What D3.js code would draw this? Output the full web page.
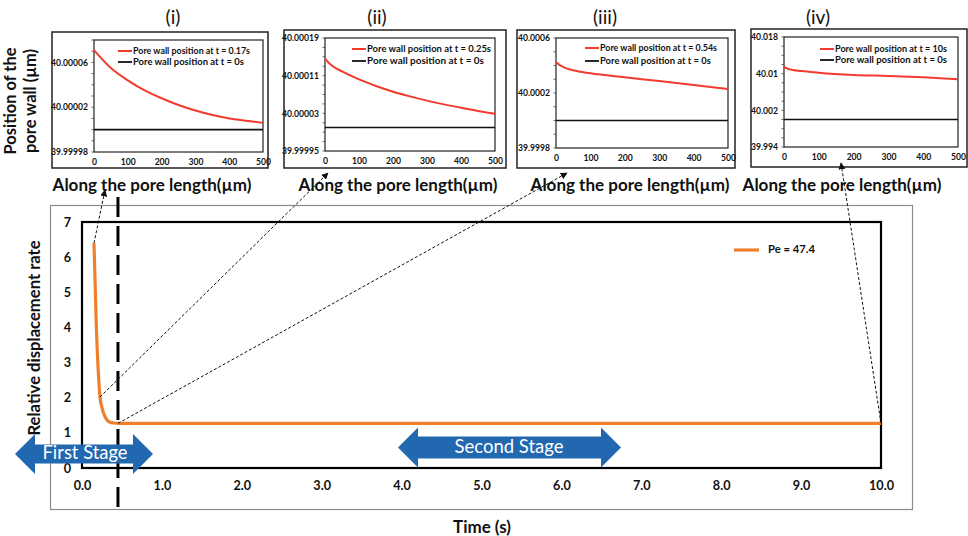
<!DOCTYPE html>
<html>
<head>
<meta charset="utf-8">
<script src="https://cdn.jsdelivr.net/npm/d3@7"></script>
<style>
  html, body { margin: 0; padding: 0; background: #fff; }
  svg { display: block; font-family: Lato, "Open Sans", sans-serif; }
</style>
</head>
<body>
<svg id="chart" width="968" height="536"></svg>
<script>
// ---------------- DATA ----------------
// Main chart: relative displacement rate vs time (Pe = 47.4)
const timeS = [0.15, 0.16, 0.17, 0.18, 0.19, 0.20, 0.21, 0.225, 0.25, 0.27, 0.29, 0.32, 0.35, 0.40, 0.45, 0.5, 1, 2, 3, 4, 5, 6, 7, 8, 9, 10];
const rate  = [6.4, 5.6, 4.8, 4.0, 3.4, 2.9, 2.5, 2.02, 1.72, 1.56, 1.45, 1.35, 1.30, 1.28, 1.27, 1.27, 1.27, 1.27, 1.27, 1.27, 1.27, 1.27, 1.27, 1.27, 1.27, 1.27];
const seriesName = "Pe = 47.4";
const xTickVals = [0,1,2,3,4,5,6,7,8,9,10];
const yTickVals = [0,1,2,3,4,5,6,7];
const stageBoundary = 0.45;

// Insets: pore wall position along pore length
const lenI   = [0, 50, 100, 150, 200, 250, 300, 350, 400, 450, 500];
const posI   = [40.000071, 40.000055, 40.000044, 40.000035, 40.000028, 40.000022, 40.000017, 40.000013, 40.000010, 40.000008, 40.000006];
const lenII  = [0, 10, 25, 50, 100, 150, 200, 250, 300, 350, 400, 450, 500];
const posII  = [40.000147, 40.000138, 40.000129, 40.000119, 40.000102, 40.000088, 40.000076, 40.000066, 40.000057, 40.000049, 40.000042, 40.000035, 40.000029];
const lenIII = [0, 10, 25, 50, 100, 200, 300, 400, 500];
const posIII = [40.000425, 40.000405, 40.000385, 40.000365, 40.000343, 40.000314, 40.000287, 40.000258, 40.000229];
const lenIV  = [0, 10, 25, 50, 100, 200, 300, 400, 500];
const posIV  = [40.0115, 40.0111, 40.0108, 40.0106, 40.0102, 40.0097, 40.0095, 40.0092, 40.0088];
const initialPos = 40.0;
const insetXTicks = [0, 100, 200, 300, 400, 500];
const insetTimes = ["0.17s", "0.25s", "0.54s", "10s"];
const insetTitles = ["(i)", "(ii)", "(iii)", "(iv)"];
const yTicksI   = [39.99998, 40.00002, 40.00006];
const yLabelsI  = ["39.99998", "40.00002", "40.00006"];
const yTicksII  = [39.99995, 40.00003, 40.00011, 40.00019];
const yLabelsII = ["39.99995", "40.00003", "40.00011", "40.00019"];
const yTicksIII = [39.9998, 40.0002, 40.0006];
const yLabelsIII= ["39.9998", "40.0002", "40.0006"];
const yTicksIV  = [39.994, 40.002, 40.01, 40.018];
const yLabelsIV = ["39.994", "40.002", "40.01", "40.018"];

// ---------------- LAYOUT ----------------
const svg = d3.select("#chart");
const ORANGE = "#F07F2C", RED = "#F23B2E", BLUE = "#2268B1";

function fit(sel, targetW) {
  let nf = +sel.attr("font-size");
  for (let p = 0; p < 3; p++) {
    const w = sel.node().getComputedTextLength();
    nf = nf * targetW / w;
    sel.attr("font-size", nf);
  }
  return nf;
}

svg.append("rect").attr("width", 968).attr("height", 536).attr("fill", "#fff");

const defs = svg.append("defs");
defs.append("marker").attr("id", "ah").attr("viewBox", "0 0 10 10")
  .attr("refX", 9).attr("refY", 5).attr("markerWidth", 7).attr("markerHeight", 7)
  .attr("markerUnits", "userSpaceOnUse").attr("orient", "auto")
  .append("path").attr("d", "M0,0 L10,5 L0,10 Z").attr("fill", "#111");

// ---------- Main chart ----------
const x = d3.scaleLinear().domain([0, 10]).range([82, 881]);
const y = d3.scaleLinear().domain([0, 7]).range([468, 222]);

svg.append("rect").attr("x", 50.5).attr("y", 205.5).attr("width", 862).attr("height", 304)
  .attr("fill", "none").attr("stroke", "#8a8a8a").attr("stroke-width", 1.2);
svg.append("rect").attr("x", x(0)).attr("y", y(7)).attr("width", x(10) - x(0)).attr("height", y(0) - y(7))
  .attr("fill", "none").attr("stroke", "#000").attr("stroke-width", 2.2);

const xAxis = svg.append("g").attr("transform", `translate(0,${y(0)})`)
  .call(d3.axisBottom(x).tickValues(xTickVals).tickSize(0).tickPadding(13).tickFormat(d3.format(".1f")));
const yAxis = svg.append("g").attr("transform", `translate(${x(0)},0)`)
  .call(d3.axisLeft(y).tickValues(yTickVals).tickSize(0).tickPadding(11).tickFormat(d3.format("d")));
[xAxis, yAxis].forEach(g => {
  g.select(".domain").remove();
  g.selectAll("text").attr("font-family", "Lato, sans-serif").attr("font-weight", "bold")
    .attr("font-size", 12.5).attr("fill", "#111");
});
const mainTickFs = fit(xAxis.selectAll("text").filter(d => d === 10), 25);
xAxis.selectAll("text").attr("font-size", mainTickFs);
yAxis.selectAll("text").attr("font-size", mainTickFs);

const yTitle = svg.append("text").attr("transform", "translate(40,338) rotate(-90)")
  .attr("text-anchor", "middle").attr("font-weight", "bold").attr("font-size", 16).attr("fill", "#111")
  .text("Relative displacement rate");
fit(yTitle, 195);
const xTitle = svg.append("text").attr("x", 482).attr("y", 533)
  .attr("text-anchor", "middle").attr("font-weight", "bold").attr("font-size", 15.5).attr("fill", "#111")
  .text("Time (s)");
fit(xTitle, 58);

// curve
const line = d3.line().x((d, i) => x(timeS[i])).y((d, i) => y(rate[i])).curve(d3.curveMonotoneX);
svg.append("path").datum(rate).attr("d", line).attr("fill", "none")
  .attr("stroke", ORANGE).attr("stroke-width", 3.2);

// legend
svg.append("line").attr("x1", 734).attr("x2", 759).attr("y1", 250).attr("y2", 250)
  .attr("stroke", ORANGE).attr("stroke-width", 3.2);
const legT = svg.append("text").attr("x", 768).attr("y", 249).attr("dy", "0.35em")
  .attr("font-weight", "bold").attr("font-size", 12).attr("fill", "#111").text(seriesName);
fit(legT, 47);

// dashed stage boundary
svg.append("line").attr("x1", x(stageBoundary)).attr("x2", x(stageBoundary)).attr("y1", 197).attr("y2", 511)
  .attr("stroke", "#000").attr("stroke-width", 3).attr("stroke-dasharray", "20,9");

// stage arrows
function dblArrow(x0, x1, cy, hh, sh, hw) {
  return `M${x0},${cy} L${x0 + hw},${cy - hh} L${x0 + hw},${cy - sh} L${x1 - hw},${cy - sh} L${x1 - hw},${cy - hh} L${x1},${cy} L${x1 - hw},${cy + hh} L${x1 - hw},${cy + sh} L${x0 + hw},${cy + sh} L${x0 + hw},${cy + hh} Z`;
}
svg.append("path").attr("d", dblArrow(15, 153, 454, 20, 9.5, 20)).attr("fill", BLUE);
const fs1 = svg.append("text").attr("x", 85).attr("y", 452.5).attr("dy", "0.35em").attr("text-anchor", "middle")
  .attr("font-size", 17.5).attr("fill", "#fff").text("First Stage");
fit(fs1, 85);
svg.append("path").attr("d", dblArrow(398, 621, 447.5, 20, 11, 20)).attr("fill", BLUE);
const fs2 = svg.append("text").attr("x", 509).attr("y", 447).attr("dy", "0.35em").attr("text-anchor", "middle")
  .attr("font-size", 17.5).attr("fill", "#fff").text("Second Stage");
fit(fs2, 109);

// ---------- Insets ----------
const insets = [
  { len: lenI, pos: posI, yt: yTicksI, yl: yLabelsI, minor: 0.00001, dom: [39.99998, 40.00008],
    frame: [52, 32, 268, 168], plot: [94, 40, 263, 152], legX: 118, legY: [51, 62], legW: [117, 111], title: [173, 17], xl: [152, 185] },
  { len: lenII, pos: posII, yt: yTicksII, yl: yLabelsII, minor: 0.00002, dom: [39.99995, 40.00019],
    frame: [284, 30, 506, 168], plot: [325, 38, 495, 151], legX: 352, legY: [49, 61], legW: [124, 117], title: [377, 17], xl: [398, 185] },
  { len: lenIII, pos: posIII, yt: yTicksIII, yl: yLabelsIII, minor: 0.0001, dom: [39.9998, 40.0006],
    frame: [517, 30, 735, 168], plot: [556, 38, 728, 148], legX: 585, legY: [48, 61], legW: [117, 111], title: [605, 17], xl: [630, 185] },
  { len: lenIV, pos: posIV, yt: yTicksIV, yl: yLabelsIV, minor: 0.002, dom: [39.994, 40.018],
    frame: [751, 29, 967, 167], plot: [784, 37, 958, 147], legX: 820, legY: [49, 60], legW: [112, 112], title: [818, 17], xl: [842, 185] }
];

const fsYTick = 8.6, fsXTick = 8.6, fsLeg = 9.6;
let fsAlong = 16, fsTitle = 16;

insets.forEach((c, k) => {
  const g = svg.append("g");
  const [fx0, fy0, fx1, fy1] = c.frame;
  const [px0, py0, px1, py1] = c.plot;
  g.append("rect").attr("x", fx0).attr("y", fy0).attr("width", fx1 - fx0).attr("height", fy1 - fy0)
    .attr("fill", "#fff").attr("stroke", "#222").attr("stroke-width", 1.5);
  const ix = d3.scaleLinear().domain([0, 500]).range([px0, px1]);
  const iy = d3.scaleLinear().domain(c.dom).range([py1, py0]);
  g.append("rect").attr("x", px0).attr("y", py0).attr("width", px1 - px0).attr("height", py1 - py0)
    .attr("fill", "none").attr("stroke", "#222").attr("stroke-width", 1.2);

  const nMinor = Math.round((c.dom[1] - c.dom[0]) / c.minor);
  const minorVals = d3.range(nMinor + 1).map(i => c.dom[0] + i * c.minor);
  g.selectAll(".mt").data(minorVals).enter().append("line")
    .attr("x1", px0 - 2.5).attr("x2", px0).attr("y1", d => iy(d)).attr("y2", d => iy(d))
    .attr("stroke", "#444").attr("stroke-width", 0.8);

  const ax = g.append("g").attr("transform", `translate(0,${py1})`)
    .call(d3.axisBottom(ix).tickValues(insetXTicks).tickSize(0).tickPadding(7).tickFormat(d3.format("d")));
  const ay = g.append("g").attr("transform", `translate(${px0},0)`)
    .call(d3.axisLeft(iy).tickValues(c.yt).tickSize(0).tickPadding(6).tickFormat((d, i) => c.yl[i]));
  [ax, ay].forEach(a => {
    a.select(".domain").remove();
    a.selectAll("text").attr("font-family", "Lato, sans-serif").attr("font-weight", "bold").attr("fill", "#111");
  });
  ax.selectAll("text").attr("font-size", fsXTick);
  ay.selectAll("text").attr("font-size", fsYTick);

  g.append("line").attr("x1", ix(0)).attr("x2", ix(500)).attr("y1", iy(initialPos)).attr("y2", iy(initialPos))
    .attr("stroke", "#111").attr("stroke-width", 1.6);
  const ln = d3.line().x((d, i) => ix(c.len[i])).y(d => iy(d)).curve(d3.curveMonotoneX);
  g.append("path").datum(c.pos).attr("d", ln).attr("fill", "none")
    .attr("stroke", RED).attr("stroke-width", 2);

  const legs = [{ col: RED, t: "Pore wall position at t = " + insetTimes[k], w: 2 },
                { col: "#111", t: "Pore wall position at t = 0s", w: 1.8 }];
  legs.forEach((L, j) => {
    g.append("line").attr("x1", c.legX).attr("x2", c.legX + 14).attr("y1", c.legY[j]).attr("y2", c.legY[j])
      .attr("stroke", L.col).attr("stroke-width", L.w);
    g.append("text").attr("x", c.legX + 15).attr("y", c.legY[j]).attr("dy", "0.35em")
      .attr("font-weight", "bold").attr("font-size", fsLeg).attr("fill", "#111")
      .attr("textLength", c.legW[j]).attr("lengthAdjust", "spacingAndGlyphs").text(L.t);
  });

  const tt = svg.append("text").attr("x", c.title[0]).attr("y", c.title[1]).attr("dy", "0.35em")
    .attr("text-anchor", "middle").attr("font-size", fsTitle).attr("fill", "#111").text(insetTitles[k]);
  if (k === 2) fsTitle = fit(tt, 24);
  const at = svg.append("text").attr("x", c.xl[0]).attr("y", c.xl[1]).attr("dy", "0.35em")
    .attr("text-anchor", "middle").attr("font-weight", "bold").attr("font-size", fsAlong).attr("fill", "#111")
    .text("Along the pore length(µm)");
  if (k === 0) fsAlong = fit(at, 199);
});
svg.selectAll("text").filter(function() { return insetTitles.includes(this.textContent); })
  .attr("font-size", fsTitle);

// inset y-axis title
const yt = svg.append("text").attr("transform", "translate(25,101) rotate(-90)")
  .attr("text-anchor", "middle").attr("font-weight", "bold").attr("font-size", 15).attr("fill", "#111");
yt.append("tspan").attr("x", 0).attr("y", -9).text("Position of the");
yt.append("tspan").attr("x", 0).attr("y", 11).text("pore wall (µm)");
{
  const w = yt.select("tspan").node().getComputedTextLength();
  yt.attr("font-size", 15 * 107 / w);
}

// ---------- Dotted pointer arrows ----------
const iPlateau = timeS.indexOf(stageBoundary);
const iMid = timeS.indexOf(0.225);
const pointers = [
  { from: [x(timeS[0]), y(rate[0])], to: [105, 190] },
  { from: [x(timeS[iMid]), y(rate[iMid])], to: [328, 173] },
  { from: [x(timeS[iPlateau]), y(rate[iPlateau])], to: [567, 173] },
  { from: [x(timeS[timeS.length - 1]), y(rate[rate.length - 1])], to: [841, 163] }
];
pointers.forEach(p => {
  svg.append("line").attr("x1", p.from[0]).attr("y1", p.from[1]).attr("x2", p.to[0]).attr("y2", p.to[1])
    .attr("stroke", "#111").attr("stroke-width", 1).attr("stroke-dasharray", "3,2")
    .attr("marker-end", "url(#ah)");
});
</script>
</body>
</html>
